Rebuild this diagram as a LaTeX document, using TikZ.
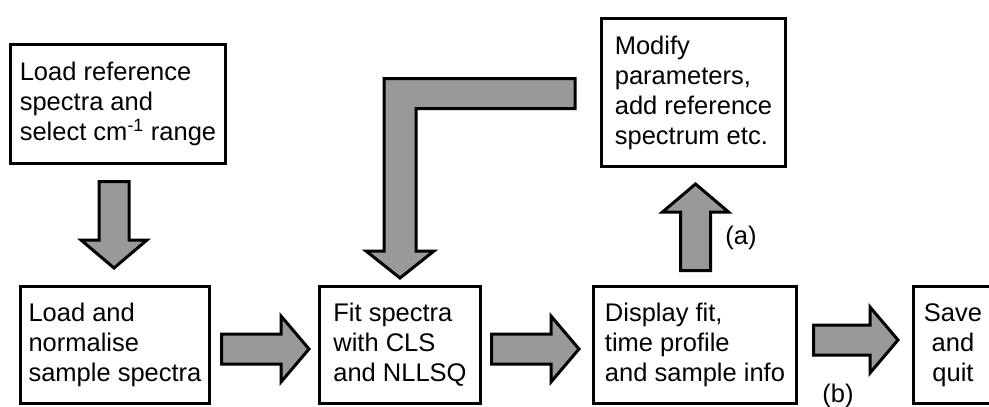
\documentclass[tikz,border=0pt]{standalone}
\usepackage{fontspec}
\setmainfont{Liberation Sans}
\usetikzlibrary{calc,positioning}
\definecolor{arrowgray}{RGB}{153,153,153}

\begin{document}
\begin{tikzpicture}[x=1pt,y=-1pt,
  box/.style={draw, line width=3pt, inner sep=0pt, align=left,
    font=\fontsize{25.5}{30}\selectfont},
  lbl/.style={font=\fontsize{25.5}{30}\selectfont},
  blockarrow/.style={draw, fill=arrowgray, line width=3pt, line join=miter},
  blockto/.style={to path={let \p1=(\tikztostart), \p2=(\tikztotarget),
      \p3=($(\p2)!28pt!(\p1)$) in
      ($(\p1)!15pt!90:(\p2)$) -- ($(\p3)!15pt!90:(\p2)$) -- ($(\p3)!33pt!90:(\p2)$)
      -- (\p2) -- ($(\p3)!33pt!-90:(\p2)$) -- ($(\p3)!15pt!-90:(\p2)$)
      -- ($(\p1)!15pt!-90:(\p2)$) -- cycle}}]
\useasboundingbox (0,0) rectangle (989,407);

% boxes
\node[box, minimum width=215pt, minimum height=119pt] (ref) at (118,104)
  {Load reference\\spectra and\\select cm\textsuperscript{-1} range};
\node[box, minimum width=189pt, minimum height=117pt] (load) at (115,345)
  {Load and\\normalise\\sample spectra};
\node[box, minimum width=161pt, minimum height=117pt] (fit) at (400,345)
  {Fit spectra\\with CLS\\and NLLSQ};
\node[box, minimum width=203pt, minimum height=117pt] (disp) at (695,345)
  {Display fit,\\time profile\\and sample info};
\node[box, align=center, minimum width=79pt, minimum height=117pt] (save) at (953,345)
  {Save\\and\\quit};
\node[box, minimum width=184pt, minimum height=148pt] (modify) at (693.5,92.5)
  {Modify\\parameters,\\add reference\\spectrum etc.};

% block arrows
\draw[blockarrow] ([shift={(-4,16.5)}]ref.south) to[blockto] ([shift={(-1,-17)}]load.north);
\draw[blockarrow] ([shift={(10.5,4)}]load.east) to[blockto] ([shift={(-9,4)}]fit.west);
\draw[blockarrow] ([shift={(9.5,4)}]fit.east) to[blockto] ([shift={(-13,4)}]disp.west);
\draw[blockarrow] ([shift={(15.5,-5)}]disp.east) to[blockto] ([shift={(-14,-5)}]save.west);
\draw[blockarrow] ([shift={(0.5,-14.5)}]disp.north) to[blockto] ([shift={(2,16)}]modify.south);

% feedback arrow
\draw[blockarrow] let \p1=([shift={(-25,1)}]modify.west), \p2=([yshift=7pt]fit.north) in
  (\x1,\y1+15pt) -- (\x2-16pt,\y1+15pt) -- (\x2-16pt,\y2+27pt) -- (\x2-34pt,\y2+27pt)
  -- (\p2) -- (\x2+34pt,\y2+27pt) -- (\x2+16pt,\y2+27pt) -- (\x2+16pt,\y1-15pt)
  -- (\x1,\y1-15pt) -- cycle;

\node[lbl] (la) at (741,238) {(a)};
\node[lbl] (lb) at (838,396) {(b)};
\end{tikzpicture}
\end{document}
